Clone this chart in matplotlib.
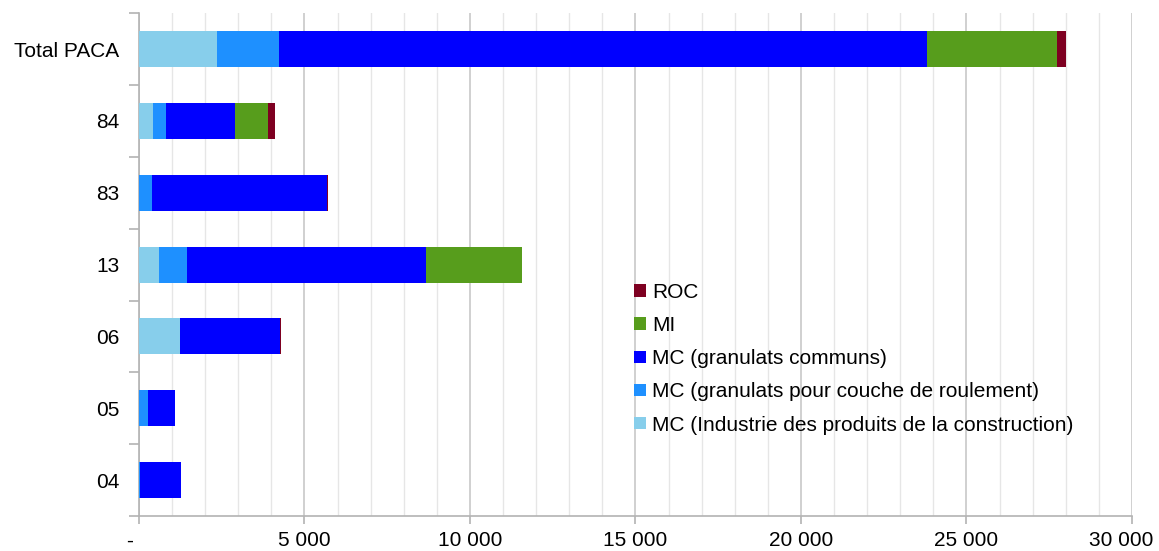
import matplotlib
matplotlib.use("Agg")
import matplotlib.pyplot as plt
from matplotlib.ticker import MultipleLocator
from matplotlib.transforms import ScaledTranslation

plt.rcParams['font.family'] = ['Liberation Sans', 'DejaVu Sans']

# categories, top to bottom
zones = ['Total PACA', '84', '83', '13', '06', '05', '04']

# values
industrie = [2370, 413, 0, 610, 1240, 0, 0]
roulement = [1860, 403, 390, 830, 0, 280, 30]
communs = [19580, 2084, 5290, 7220, 3020, 815, 1240]
mi = [3935, 1006, 0, 2900, 0, 0, 0]
roc = [255, 203, 20, 0, 30, 0, 0]

xticks = [0, 5000, 10000, 15000, 20000, 25000, 30000]
xlabels = ['-', '5 000', '10 000', '15 000', '20 000', '25 000', '30 000']

series = [
    ('MC (Industrie des produits de la construction)', industrie, '#87ceeb'),
    ('MC (granulats pour couche de roulement)', roulement, '#1e90ff'),
    ('MC (granulats communs)', communs, '#0000ff'),
    ('MI', mi, '#579d1c'),
    ('ROC', roc, '#7e0021'),
]

fig = plt.figure(figsize=(11.59, 5.51), dpi=100)
ax = fig.add_axes([0.1199, 0.0635, 0.8568, 0.9125])

pos = list(range(len(zones)))
left = [0] * len(zones)
handles = []
for label, vals, col in series:
    h = ax.barh(pos, vals, left=left, height=0.5, color=col, label=label, zorder=3)
    handles.append(h)
    left = [a + b for a, b in zip(left, vals)]

ax.set_xlim(0, 30000)
ax.set_ylim(6.5, -0.5)

ax.set_xticks(xticks, xlabels)
ax.xaxis.set_minor_locator(MultipleLocator(1000))
ax.grid(which='major', axis='x', color='#c8c8c8', linewidth=1.2, zorder=0)
ax.grid(which='minor', axis='x', color='#e6e6e6', linewidth=1.0, zorder=0)

ax.set_yticks(pos)
ax.set_yticklabels(zones)
ax.set_yticks([p - 0.5 for p in pos] + [6.5], minor=True)
ax.tick_params(axis='y', which='major', length=0, pad=14, labelsize=15)
ax.tick_params(axis='y', which='minor', length=7, width=1.2, color='#b3b3b3')
ax.tick_params(axis='x', which='major', length=6, width=1.2, color='#b3b3b3',
               labelsize=15, pad=5)
ax.tick_params(axis='x', which='minor', length=0)

# first and last labels nudged like the original (after tick_params)
labs = ax.get_xticklabels()
labs[0].set_transform(labs[0].get_transform()
                      + ScaledTranslation(-0.09, 0, fig.dpi_scale_trans))
labs[-1].set_transform(labs[-1].get_transform()
                       + ScaledTranslation(-0.11, 0, fig.dpi_scale_trans))

for s in ['top', 'right']:
    ax.spines[s].set_visible(False)
for s in ['left', 'bottom']:
    ax.spines[s].set_color('#b3b3b3')
    ax.spines[s].set_linewidth(1.2)

ax.legend(handles[::-1], [s[0] for s in series][::-1],
          loc='upper left', bbox_to_anchor=(0.48, 0.501), frameon=False,
          fontsize=15, handlelength=0.55, handleheight=0.55,
          handletextpad=0.3, labelspacing=0.68)

fig.savefig('out.png', dpi=100)
